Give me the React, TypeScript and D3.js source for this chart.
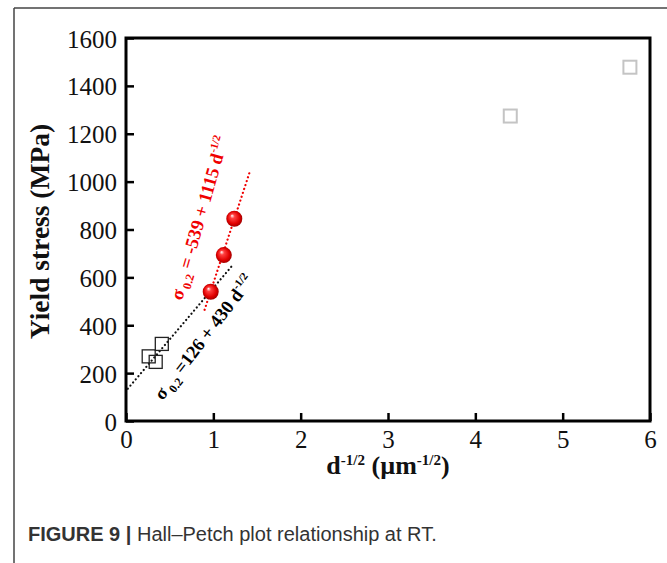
import React, { useEffect, useRef } from "react";
import * as d3 from "d3";

// Hall-Petch plot data
const xTicks = [0, 1, 2, 3, 4, 5, 6];
const yTicks = [0, 200, 400, 600, 800, 1000, 1200, 1400, 1600];

const blackSquares = [
  { x: 0.26, y: 270 },
  { x: 0.34, y: 247 },
  { x: 0.41, y: 322 },
];
const graySquares = [
  { x: 4.4, y: 1274 },
  { x: 5.77, y: 1478 },
];
const redPoints = [
  { x: 0.97, y: 540 },
  { x: 1.12, y: 693 },
  { x: 1.24, y: 845 },
];

// fit lines: sigma = a + b * d^-1/2
const redFit = { a: -539, b: 1115, from: 0.9, to: 1.42 };
const blackFit = { a: 126, b: 430, from: 0.02, to: 1.23 };

const W = 667;
const H = 563;
const margin = { left: 126, right: 17, top: 38, bottom: 142 };

export default function App() {
  const svgRef = useRef<SVGSVGElement>(null);

  useEffect(() => {
    const svg = d3.select(svgRef.current);
    svg.selectAll("*").remove();

    const x = d3.scaleLinear().domain([0, 6]).range([margin.left, W - margin.right]);
    const y = d3.scaleLinear().domain([0, 1600]).range([H - margin.bottom, margin.top]);

    const defs = svg.append("defs");
    const grad = defs
      .append("radialGradient")
      .attr("id", "ball")
      .attr("cx", "50%")
      .attr("cy", "50%")
      .attr("r", "55%")
      .attr("fx", "35%")
      .attr("fy", "30%");
    grad.append("stop").attr("offset", "0%").attr("stop-color", "#fff");
    grad.append("stop").attr("offset", "25%").attr("stop-color", "#ff4040");
    grad.append("stop").attr("offset", "70%").attr("stop-color", "#e00000");
    grad.append("stop").attr("offset", "100%").attr("stop-color", "#900000");

    // outer figure frame
    svg.append("line").attr("x1", 14).attr("x2", W).attr("y1", 8).attr("y2", 8)
      .attr("stroke", "#444").attr("stroke-width", 1.5);
    svg.append("line").attr("x1", 14).attr("x2", 14).attr("y1", 8).attr("y2", H)
      .attr("stroke", "#444").attr("stroke-width", 1.5);

    // axes
    const fmt = d3.format("d");
    const yAxis = d3.axisLeft(y).tickValues(yTicks).tickFormat(fmt).tickSizeInner(-8).tickSizeOuter(0).tickPadding(9);
    const xAxis = d3.axisBottom(x).tickValues(xTicks).tickFormat(fmt).tickSizeInner(-8).tickSizeOuter(0).tickPadding(9);

    const gy = svg.append("g").attr("transform", `translate(${margin.left},0)`).call(yAxis);
    const gx = svg.append("g").attr("transform", `translate(0,${H - margin.bottom})`).call(xAxis);
    [gx, gy].forEach((g) => {
      g.select(".domain").remove();
      g.selectAll("line").attr("stroke", "#000").attr("stroke-width", 2.5);
      g.selectAll("text")
        .attr("fill", "#111")
        .style("font-family", "'Liberation Serif', serif")
        .style("font-size", "25px");
    });
    gy.selectAll(".tick text").attr("dy", "0.36em");
    gx.selectAll(".tick text").attr("dy", "0.71em");

    svg.append("rect")
      .attr("x", margin.left)
      .attr("y", margin.top)
      .attr("width", W - margin.left - margin.right)
      .attr("height", H - margin.top - margin.bottom)
      .attr("fill", "none")
      .attr("stroke", "#000")
      .attr("stroke-width", 3);

    // fit lines
    const drawFit = (f: typeof redFit, color: string) => {
      svg.append("line")
        .attr("x1", x(f.from)).attr("y1", y(f.a + f.b * f.from))
        .attr("x2", x(f.to)).attr("y2", y(f.a + f.b * f.to))
        .attr("stroke", color)
        .attr("stroke-width", 2.2)
        .attr("stroke-linecap", "round")
        .attr("stroke-dasharray", "0.1 4");
    };
    drawFit(blackFit, "#111");

    // squares
    const s = 13;
    svg.append("g").selectAll("rect").data(blackSquares).join("rect")
      .attr("x", (d) => x(d.x) - s / 2).attr("y", (d) => y(d.y) - s / 2)
      .attr("width", s).attr("height", s)
      .attr("fill", "none").attr("stroke", "#222").attr("stroke-width", 1.3);
    svg.append("g").selectAll("rect").data(graySquares).join("rect")
      .attr("x", (d) => x(d.x) - 6.5).attr("y", (d) => y(d.y) - 6.5)
      .attr("width", 13).attr("height", 13)
      .attr("fill", "none").attr("stroke", "#c4c4c4").attr("stroke-width", 2);

    drawFit(redFit, "#f00000");

    svg.append("g").selectAll("circle").data(redPoints).join("circle")
      .attr("cx", (d) => x(d.x)).attr("cy", (d) => y(d.y)).attr("r", 8)
      .attr("fill", "url(#ball)");

    // equation labels
    const eq = (px: number, py: number, angle: number, color: string, body: string) => {
      const t = svg.append("text")
        .attr("transform", `translate(${x(px)},${y(py)}) rotate(${angle})`)
        .attr("fill", color)
        .style("font-family", "'Liberation Serif', serif")
        .style("font-weight", "bold")
        .style("font-size", "18.5px");
      t.append("tspan").text("σ");
      t.append("tspan").attr("dy", 5).style("font-size", "12px").text(" 0.2");
      t.append("tspan").attr("dy", -5).text(body);
      t.append("tspan").attr("dy", -8).style("font-size", "11px").text("-1/2");
    };
    eq(0.64, 501, -74, "#f00000", " = -539 + 1115 d");
    eq(0.42, 84, -52.5, "#000", " =126 + 430 d");

    // axis titles
    const titleStyle = (sel: d3.Selection<SVGTextElement, unknown, null, undefined>, size: number) =>
      sel.style("font-family", "'Liberation Serif', serif").style("font-weight", "bold").style("font-size", `${size}px`).attr("fill", "#111");

    const yt = svg.append("text")
      .attr("transform", `translate(49,${(margin.top + H - margin.bottom) / 2 + 2}) rotate(-90)`)
      .attr("text-anchor", "middle")
      .text("Yield stress (MPa)");
    titleStyle(yt, 27.5);

    const xt = svg.append("text")
      .attr("x", x(3))
      .attr("y", 474)
      .attr("text-anchor", "middle");
    titleStyle(xt, 26);
    xt.append("tspan").text("d");
    xt.append("tspan").attr("dy", -9).style("font-size", "15px").text("-1/2");
    xt.append("tspan").attr("dy", 9).text(" (µm");
    xt.append("tspan").attr("dy", -9).style("font-size", "15px").text("-1/2");
    xt.append("tspan").attr("dy", 9).text(")");

    // caption
    const cap = svg.append("text")
      .attr("x", 28)
      .attr("y", 541)
      .attr("fill", "#333")
      .style("font-family", "'Liberation Sans', Arial, sans-serif")
      .style("font-size", "20px");
    cap.append("tspan").style("font-weight", "bold").text("FIGURE 9 | ");
    cap.append("tspan").text("Hall–Petch plot relationship at RT.");
  }, []);

  return (
    <svg
      ref={svgRef}
      width={W}
      height={H}
      style={{ position: "absolute", left: 0, top: 0, background: "#fff" }}
    />
  );
}
